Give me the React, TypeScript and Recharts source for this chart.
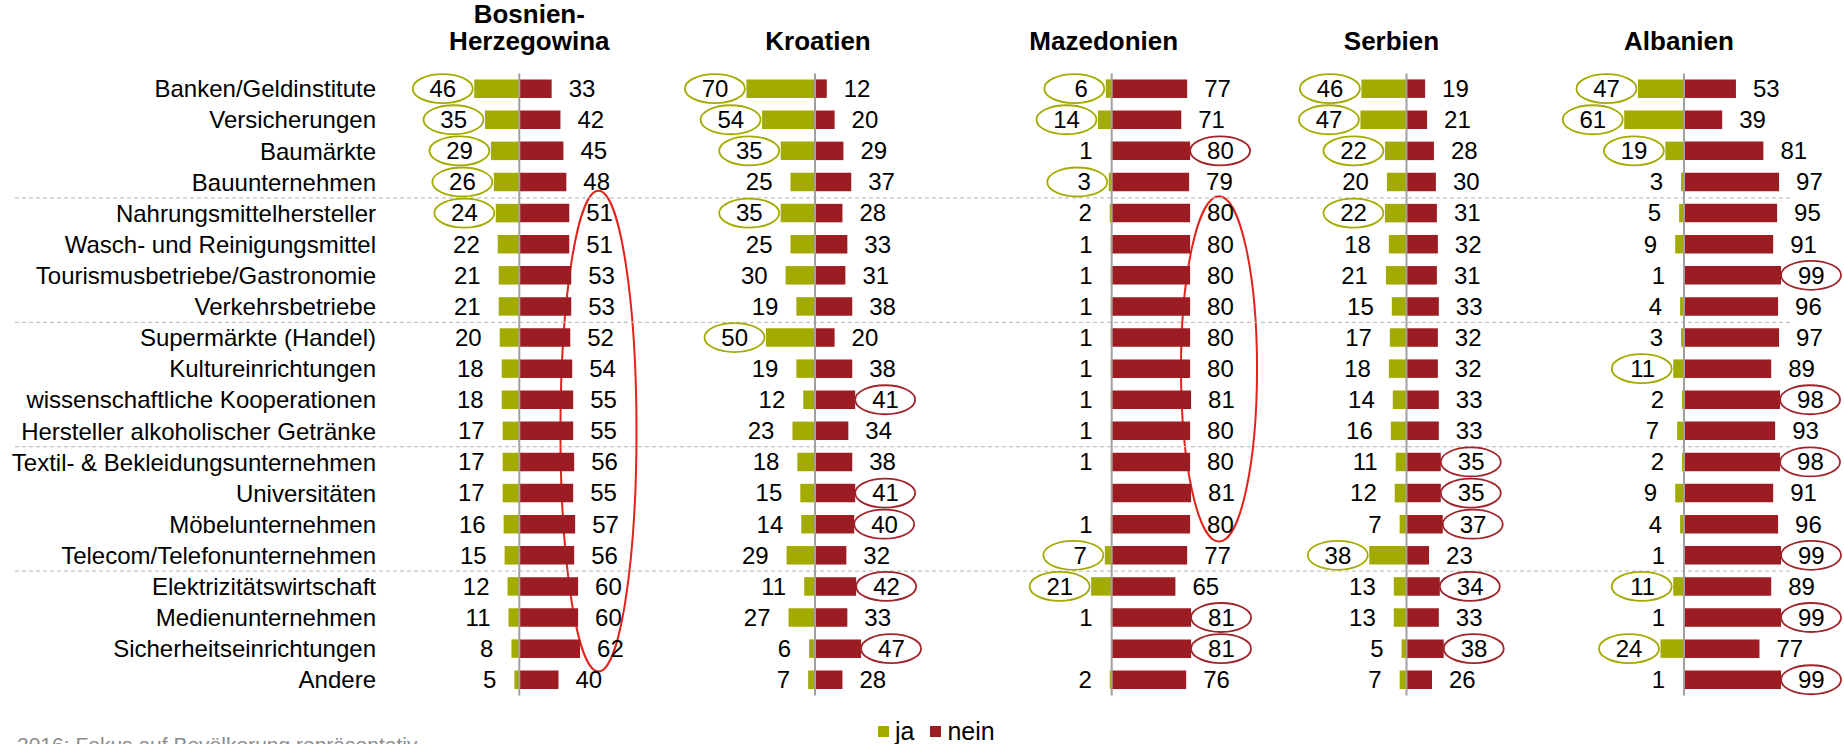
import React from "react";
import { BarChart, Bar, XAxis, YAxis, ReferenceLine, ReferenceArea, LabelList, Legend } from "recharts";

const categories = [
  "Banken/Geldinstitute",
  "Versicherungen",
  "Baumärkte",
  "Bauunternehmen",
  "Nahrungsmittelhersteller",
  "Wasch- und Reinigungsmittel",
  "Tourismusbetriebe/Gastronomie",
  "Verkehrsbetriebe",
  "Supermärkte (Handel)",
  "Kultureinrichtungen",
  "wissenschaftliche Kooperationen",
  "Hersteller alkoholischer Getränke",
  "Textil- & Bekleidungsunternehmen",
  "Universitäten",
  "Möbelunternehmen",
  "Telecom/Telefonunternehmen",
  "Elektrizitätswirtschaft",
  "Medienunternehmen",
  "Sicherheitseinrichtungen",
  "Andere",
];

const countries = ["Bosnien-Herzegowina", "Kroatien", "Mazedonien", "Serbien", "Albanien"];

const bihJa = [46, 35, 29, 26, 24, 22, 21, 21, 20, 18, 18, 17, 17, 17, 16, 15, 12, 11, 8, 5];
const bihNein = [33, 42, 45, 48, 51, 51, 53, 53, 52, 54, 55, 55, 56, 55, 57, 56, 60, 60, 62, 40];
const kroJa = [70, 54, 35, 25, 35, 25, 30, 19, 50, 19, 12, 23, 18, 15, 14, 29, 11, 27, 6, 7];
const kroNein = [12, 20, 29, 37, 28, 33, 31, 38, 20, 38, 41, 34, 38, 41, 40, 32, 42, 33, 47, 28];
const mazJa = [6, 14, 1, 3, 2, 1, 1, 1, 1, 1, 1, 1, 1, null, 1, 7, 21, 1, null, 2];
const mazNein = [77, 71, 80, 79, 80, 80, 80, 80, 80, 80, 81, 80, 80, 81, 80, 77, 65, 81, 81, 76];
const serJa = [46, 47, 22, 20, 22, 18, 21, 15, 17, 18, 14, 16, 11, 12, 7, 38, 13, 13, 5, 7];
const serNein = [19, 21, 28, 30, 31, 32, 31, 33, 32, 32, 33, 33, 35, 35, 37, 23, 34, 33, 38, 26];
const albJa = [47, 61, 19, 3, 5, 9, 1, 4, 3, 11, 2, 7, 2, 9, 4, 1, 11, 1, 24, 1];
const albNein = [53, 39, 81, 97, 95, 91, 99, 96, 97, 89, 98, 93, 98, 91, 96, 99, 89, 99, 77, 99];

// row numbers (1-based) whose value is circled
const bihJaMarked = [1, 2, 3, 4, 5];
const bihNeinMarked: number[] = [];
const kroJaMarked = [1, 2, 3, 5, 9];
const kroNeinMarked = [11, 14, 15, 17, 19];
const mazJaMarked = [1, 2, 4, 16, 17];
const mazNeinMarked = [3, 18, 19];
const serJaMarked = [1, 2, 3, 5, 16];
const serNeinMarked = [13, 14, 15, 17, 19];
const albJaMarked = [1, 2, 3, 10, 17, 19];
const albNeinMarked = [7, 11, 13, 16, 18, 20];

// rows after which a dashed separator is drawn
const groupBreaks = [4, 8, 12, 16];

const panels = [
  { title: countries[0], ja: bihJa, nein: bihNein, jaMarked: bihJaMarked, neinMarked: bihNeinMarked },
  { title: countries[1], ja: kroJa, nein: kroNein, jaMarked: kroJaMarked, neinMarked: kroNeinMarked },
  { title: countries[2], ja: mazJa, nein: mazNein, jaMarked: mazJaMarked, neinMarked: mazNeinMarked },
  { title: countries[3], ja: serJa, nein: serNein, jaMarked: serJaMarked, neinMarked: serNeinMarked },
  { title: countries[4], ja: albJa, nein: albNein, jaMarked: albJaMarked, neinMarked: albNeinMarked },
];

const rows = categories.map((cat, i) => {
  const r: Record<string, any> = { cat };
  panels.forEach((p, k) => {
    r[`ja${k}`] = p.ja[i] == null ? 0 : -(p.ja[i] as number);
    r[`nein${k}`] = p.nein[i];
  });
  return r;
});

// layout
const W = 1844;
const H = 744;
const PLOT_LEFT = 15;
const PLOT_RIGHT = 1792;
const PLOT_TOP = 73.4;
const PLOT_BOTTOM = 695.6;
const PX_PER_UNIT = 0.98;
const PANEL_ZERO = [519.3, 815, 1111.7, 1406.5, 1684];
const TITLE_DX = [10, 3, -8, -15, -5];
const LABEL_RIGHT = 376;

// big highlight rings: panel, x range (in %), first/last row, extra vertical pad
const bigRings = [
  { panel: 0, x1: 42, x2: 119.6, from: 5, to: 19, pad: 7 },
  { panel: 2, x1: 70.7, x2: 148.3, from: 5, to: 15, pad: 1.5 },
];

const GREEN = "#a3ab00";
const RED = "#9b1c23";
const RING_RED = "#a0242b";
const BIG_RING = "#e2231d";
const FONT = "'Liberation Sans', Arial, sans-serif";

const domainFor = (k: number): [number, number] => [
  -(PANEL_ZERO[k] - PLOT_LEFT) / PX_PER_UNIT,
  (PLOT_RIGHT - PANEL_ZERO[k]) / PX_PER_UNIT,
];

function valueLabel(values: (number | null)[], marked: number[], side: "ja" | "nein") {
  return (props: any) => {
    // the label value is the category name, so the row never depends on which bars were drawn
    const index = categories.indexOf(String(props.value));
    if (index < 0) return null;
    const v = values[index];
    if (v == null) return null;
    const vb = props.viewBox ?? props;
    const x0 = Number(vb.x);
    const w = Number(vb.width);
    const y0 = Number(vb.y);
    const h = Number(vb.height);
    const left = Math.min(x0, x0 + w);
    const right = Math.max(x0, x0 + w);
    const cy = Math.min(y0, y0 + h) + Math.abs(h) / 2;
    const isJa = side === "ja";
    const tx = isJa ? left - 18 : right + 17;
    const cx = isJa ? tx - 13.5 : tx + 13;
    const ring = marked.includes(index + 1);
    return (
      <g key={`${side}-${index}`}>
        {ring && (
          <ellipse cx={cx} cy={cy} rx={30} ry={14.5} fill="none" stroke={isJa ? GREEN : RING_RED} strokeWidth={1.8} />
        )}
        <text x={tx} y={cy} dy="0.35em" textAnchor={isJa ? "end" : "start"} fontSize={24} fontFamily={FONT} fill="#000">
          {v}
        </text>
      </g>
    );
  };
}

function titleLabel(title: string, dx: number) {
  return (props: any) => {
    const vb = props.viewBox ?? {};
    const top = Math.min(Number(vb.y), Number(vb.y) + Number(vb.height || 0));
    const x = Number(vb.x) + dx;
    const cut = title.indexOf("-");
    const parts = cut > 0 ? [title.slice(0, cut + 1), title.slice(cut + 1)] : [title];
    return (
      <text textAnchor="middle" fontSize={26} fontWeight="bold" fontFamily={FONT} fill="#000">
        {parts.map((t, i) => (
          <tspan key={i} x={x} y={top - 23 - (parts.length - 1 - i) * 27}>
            {t}
          </tspan>
        ))}
      </text>
    );
  };
}

function CategoryTick(props: any) {
  const { y, payload } = props;
  return (
    <text x={LABEL_RIGHT} y={y} dy="0.35em" textAnchor="end" fontSize={24} fontFamily={FONT} fill="#000">
      {payload.value}
    </text>
  );
}

const ringShape = (pad: number) => (p: any) => {
  const x = Math.min(p.x, p.x + p.width);
  const w = Math.abs(p.width);
  const y = Math.min(p.y, p.y + p.height);
  const h = Math.abs(p.height);
  return <ellipse cx={x + w / 2} cy={y + h / 2} rx={w / 2} ry={h / 2 + pad} fill="none" stroke={BIG_RING} strokeWidth={2} />;
};

function LegendBox({ payload }: any) {
  const seen = new Set<string>();
  const items = (payload ?? []).filter((item: any) => {
    if (seen.has(item.value)) return false;
    seen.add(item.value);
    return true;
  });
  return (
    <div style={{ display: "flex", alignItems: "center", fontFamily: FONT, fontSize: 25, color: "#000" }}>
      {items.map((item: any, i: number) => (
        <span key={i} style={{ display: "inline-flex", alignItems: "center", marginRight: 16 }}>
          <span style={{ display: "inline-block", width: 11, height: 11, background: item.color, marginRight: 6 }} />
          {item.value}
        </span>
      ))}
    </div>
  );
}

export default function App() {
  return (
    <div style={{ position: "absolute", left: 0, top: 0, width: W, height: H, overflow: "hidden", background: "#fff" }}>
      <BarChart
        width={W}
        height={H}
        data={rows}
        layout="vertical"
        stackOffset="sign"
        margin={{ top: PLOT_TOP, right: W - PLOT_RIGHT, bottom: H - PLOT_BOTTOM, left: PLOT_LEFT }}
      >
        {panels.map((_, k) => (
          <XAxis key={`x${k}`} xAxisId={k} type="number" domain={domainFor(k)} allowDataOverflow hide />
        ))}
        {panels.map((_, k) => (
          <YAxis
            key={`y${k}`}
            yAxisId={k}
            type="category"
            dataKey="cat"
            hide={k > 0}
            mirror
            axisLine={false}
            tickLine={false}
            interval={0}
            tick={k === 0 ? (p: any) => <CategoryTick {...p} /> : false}
          />
        ))}
        {groupBreaks.map((r) => (
          <ReferenceLine
            key={`sep${r}`}
            xAxisId={0}
            yAxisId={0}
            y={categories[r]}
            position="start"
            stroke="#c4c4c4"
            strokeWidth={1.2}
            strokeDasharray="4 3"
          />
        ))}
        {panels.flatMap((p, k) => [
          <Bar
            key={`ja${k}`}
            dataKey={`ja${k}`}
            name="ja"
            xAxisId={k}
            yAxisId={k}
            stackId={`s${k}`}
            fill={GREEN}
            barSize={18.5}
            legendType={k === 0 ? "square" : "none"}
            isAnimationActive={false}
          >
            <LabelList dataKey="cat" content={valueLabel(p.ja, p.jaMarked, "ja")} />
          </Bar>,
          <Bar
            key={`nein${k}`}
            dataKey={`nein${k}`}
            name="nein"
            xAxisId={k}
            yAxisId={k}
            stackId={`s${k}`}
            fill={RED}
            barSize={18.5}
            legendType={k === 0 ? "square" : "none"}
            isAnimationActive={false}
          >
            <LabelList dataKey="cat" content={valueLabel(p.nein, p.neinMarked, "nein")} />
          </Bar>,
        ])}
        {panels.map((p, k) => (
          <ReferenceLine
            key={`zero${k}`}
            xAxisId={k}
            yAxisId={k}
            x={0}
            stroke="#a0a0a0"
            strokeWidth={2}
            label={titleLabel(p.title, TITLE_DX[k])}
          />
        ))}
        {bigRings.map((r, i) => (
          <ReferenceArea
            key={`ring${i}`}
            xAxisId={r.panel}
            yAxisId={r.panel}
            x1={r.x1}
            x2={r.x2}
            y1={categories[r.from - 1]}
            y2={categories[r.to - 1]}
            ifOverflow="visible"
            shape={ringShape(r.pad)}
          />
        ))}
        <Legend
          verticalAlign="middle"
          align="center"
          content={(props: any) => <LegendBox payload={props.payload} />}
          wrapperStyle={{ left: 878, top: 717, width: "auto" }}
        />
      </BarChart>
      <div
        style={{
          position: "absolute",
          left: 17,
          top: 734,
          fontFamily: FONT,
          fontSize: 21,
          lineHeight: "21px",
          color: "#8c8c8c",
          whiteSpace: "nowrap",
        }}
      >
        2016: Fokus auf Bevölkerung repräsentativ
      </div>
    </div>
  );
}
